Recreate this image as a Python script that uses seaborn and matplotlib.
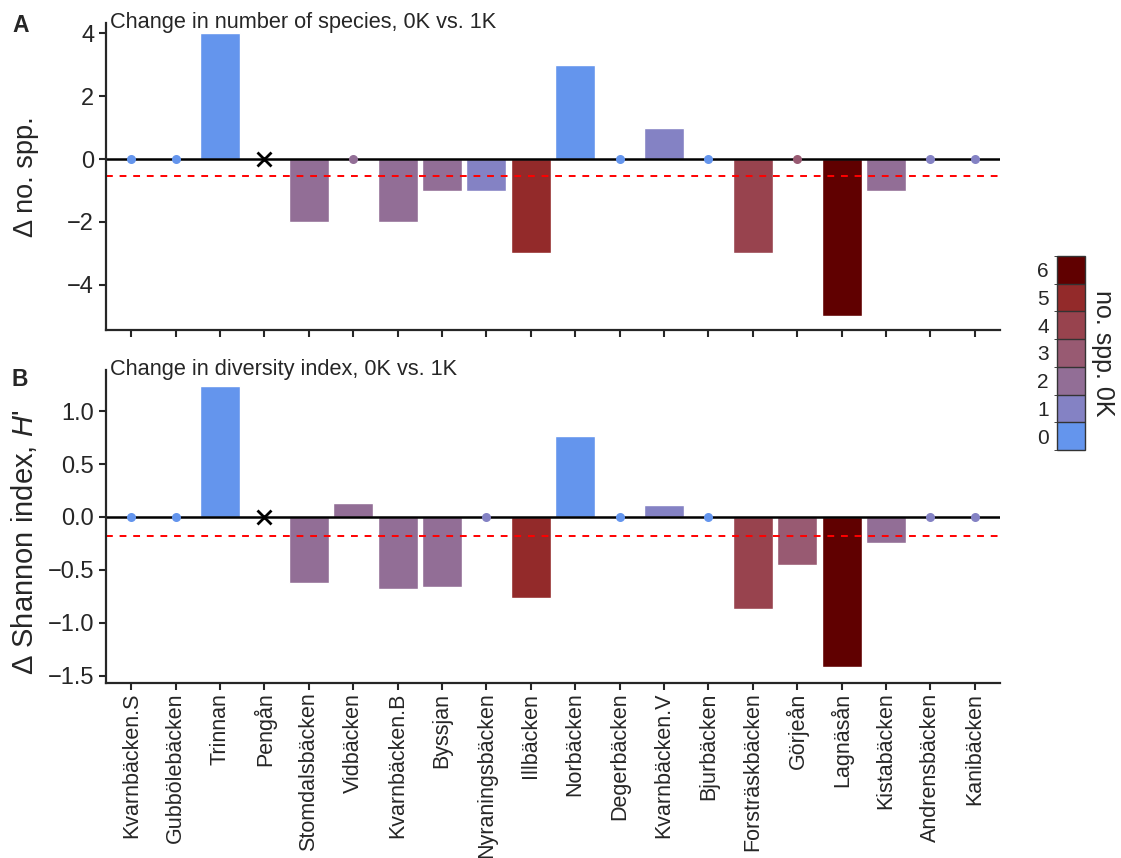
import numpy as np
import pandas as pd
import matplotlib
matplotlib.use('Agg')
import matplotlib.pyplot as plt
from matplotlib.colors import ListedColormap, BoundaryNorm
from matplotlib.cm import ScalarMappable
import seaborn as sns

# data
sites = ['Kvarnbäcken.S', 'Gubbölebäcken', 'Trinnan', 'Pengån', 'Stomdalsbäcken',
         'Vidbäcken', 'Kvarnbäcken.B', 'Byssjan', 'Nyraningsbäcken', 'Illbäcken',
         'Norbäcken', 'Degerbäcken', 'Kvarnbäcken.V', 'Bjurbäcken', 'Forsträskbäcken',
         'Görjeån', 'Lagnäsån', 'Kistabäcken', 'Andrensbäcken', 'Kanibäcken']
d_spp = [0, 0, 4, np.nan, -2, 0, -2, -1, -1, -3, 3, 0, 1, 0, -3, 0, -5, -1, 0, 0]
d_shannon = [0, 0, 1.236, np.nan, -0.62, 0.135, -0.68, -0.66, 0, -0.77,
             0.77, 0, 0.113, 0, -0.87, -0.45, -1.42, -0.25, 0, 0]
spp_0k = [0, 0, 0, np.nan, 2, 2, 2, 2, 1, 5, 0, 0, 1, 0, 4, 3, 6, 2, 1, 1]
levels = [0, 1, 2, 3, 4, 5, 6]
level_colors = ['#6495ed', '#8482c4', '#926e96', '#985a72', '#98434e', '#932a2a', '#600000']

sns.set_style('ticks')
plt.rcParams['font.family'] = ['Liberation Sans', 'DejaVu Sans']
plt.rcParams['mathtext.fontset'] = 'custom'
plt.rcParams['mathtext.rm'] = 'Liberation Sans'
plt.rcParams['mathtext.it'] = 'Liberation Sans:italic'

pal = {}
for s, n in zip(sites, spp_0k):
    pal[s] = 'black' if np.isnan(n) else level_colors[int(n)]

W, H = 1121, 858
fig = plt.figure(figsize=(W / 100, H / 100), dpi=100)
ax1 = fig.add_axes([106 / W, 1 - 330 / H, 894 / W, 307 / H])
ax2 = fig.add_axes([106 / W, 1 - 683 / H, 894 / W, 313 / H])


def panel(ax, vals, ylab, title, ylim, yticks, labsize, laby):
    df = pd.DataFrame({'site': sites, 'val': vals})
    sns.barplot(data=df.dropna(), x='site', y='val', hue='site', order=sites,
                palette=pal, width=0.9, saturation=1, legend=False, ax=ax, zorder=1)
    ax.axhline(0, color='black', lw=1.8, zorder=2)
    ax.axhline(np.nanmean(vals), color='red', ls='--', lw=1.4, dashes=(3.5, 3.5), zorder=2)
    zero = df[df['val'] == 0]
    sns.stripplot(data=zero, x='site', y='val', hue='site', order=sites, palette=pal,
                  jitter=False, size=6.5, legend=False, ax=ax, zorder=3)
    # missing site marked with a cross
    for i, v in enumerate(vals):
        if np.isnan(v):
            ax.plot(i, 0, marker='x', color='black', ms=10, mew=2, zorder=4)
    ax.set_xlim(-0.57, len(sites) - 0.43)
    ax.set_ylim(*ylim)
    ax.set_yticks(yticks)
    ax.set_xlabel('')
    ax.set_ylabel(ylab, fontsize=labsize)
    ax.yaxis.set_label_coords(-0.075, laby)
    ax.text(0.005, 1.035, title, transform=ax.transAxes, ha='left', va='top', fontsize=15.7)
    ax.tick_params(labelsize=17, width=1.5, length=5)
    for sp in ['left', 'bottom']:
        ax.spines[sp].set_linewidth(1.6)
    sns.despine(ax=ax)


panel(ax1, d_spp, 'Δ no. spp.', 'Change in number of species, 0K vs. 1K',
      (-5.43, 4.32), [-4, -2, 0, 2, 4], 19.5, 0.5)
panel(ax2, d_shannon, "Δ Shannon index, $H$'", 'Change in diversity index, 0K vs. 1K',
      (-1.57, 1.39), [-1.5, -1.0, -0.5, 0.0, 0.5, 1.0], 21, 0.45)
ax1.tick_params(axis='x', labelbottom=False)
ax2.tick_params(axis='x', rotation=90, labelsize=15.5, pad=2)
ax2.set_yticklabels(['−1.5', '−1.0', '−0.5', '0.0', '0.5', '1.0'])

fig.text(12 / W, 1 - 25 / H, 'A', fontsize=16.5, fontweight='bold', va='center')
fig.text(12 / W, 1 - 380 / H, 'B', fontsize=16.5, fontweight='bold', va='center')

# discrete colour bar for number of species at 0K
cmap = ListedColormap(level_colors)
norm = BoundaryNorm(np.arange(-0.5, len(levels)), len(levels))
cax = fig.add_axes([1057 / W, 1 - 450 / H, 28 / W, 194 / H])
cb = fig.colorbar(ScalarMappable(norm=norm, cmap=cmap), cax=cax, ticks=levels, drawedges=True)
cax.yaxis.set_ticks_position('left')
cax.tick_params(length=0, labelsize=15, pad=6)
cb.outline.set_edgecolor('#333333')
cb.outline.set_linewidth(1)
cb.dividers.set_color('#333333')
cb.dividers.set_linewidth(1)
cax.yaxis.set_label_position('right')
cb.set_label('no. spp. 0K', rotation=270, va='bottom', fontsize=18, labelpad=4)

fig.savefig('out.png', dpi=100)
